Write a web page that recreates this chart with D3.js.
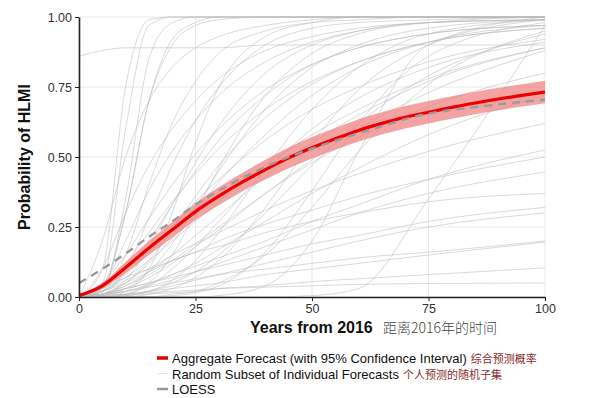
<!DOCTYPE html>
<html>
<head>
<meta charset="utf-8">
<script src="https://cdn.jsdelivr.net/npm/d3@7"></script>
<style>
  body { margin: 0; background: #fff; }
  svg { display: block; font-family: "Liberation Sans", Arial, sans-serif; }
  .grid line { stroke: #ebebeb; stroke-width: 1; }
  .axis path, .axis line { stroke: #222; }
  .axis text { fill: #333; font-size: 12.5px; font-family: "Liberation Sans", Arial, sans-serif; }
</style>
</head>
<body>
<div id="chart"></div>
<script>
// Forecast data

// years for the aggregate / LOESS / CI series
const years = [0, 5, 10, 15, 20, 25, 30, 35, 40, 45, 50, 55, 60, 65, 70, 75, 80, 85, 90, 95, 100];
const aggregate = [0.005, 0.04, 0.105, 0.175, 0.24, 0.305, 0.36, 0.41, 0.455, 0.497, 0.533, 0.565, 0.595, 0.62, 0.642, 0.66, 0.677, 0.693, 0.707, 0.72, 0.732];
const ciLower = [0.0, 0.03, 0.085, 0.15, 0.212, 0.275, 0.328, 0.377, 0.42, 0.46, 0.495, 0.526, 0.555, 0.58, 0.602, 0.62, 0.637, 0.653, 0.667, 0.68, 0.692];
const ciUpper = [0.01, 0.05, 0.125, 0.2, 0.268, 0.335, 0.392, 0.443, 0.49, 0.534, 0.571, 0.604, 0.635, 0.66, 0.682, 0.7, 0.717, 0.733, 0.747, 0.76, 0.772];
const loess = [0.05, 0.10, 0.155, 0.215, 0.27, 0.33, 0.38, 0.425, 0.465, 0.5, 0.53, 0.558, 0.585, 0.61, 0.635, 0.655, 0.668, 0.678, 0.688, 0.697, 0.705];

// years for the individual forecasts
const indivYears = [0, 5, 10, 15, 20, 25, 30, 40, 50, 60, 75, 100];
const individual = [
  [0, 0.05, 0.6, 0.97, 1, 1, 1, 1, 1, 1, 1, 1],
  [0, 0.1, 0.75, 0.99, 1, 1, 1, 1, 1, 1, 1, 1],
  [0, 0.02, 0.35, 0.85, 0.98, 1, 1, 1, 1, 1, 1, 1],
  [0, 0.03, 0.3, 0.7, 0.9, 0.97, 0.99, 1, 1, 1, 1, 1],
  [0.86, 0.88, 0.89, 0.89, 0.89, 0.89, 0.89, 0.9, 0.9, 0.9, 0.9, 0.9],
  [0, 0.02, 0.15, 0.4, 0.62, 0.77, 0.87, 0.95, 0.98, 0.99, 1, 1],
  [0, 0.01, 0.1, 0.28, 0.47, 0.63, 0.75, 0.9, 0.96, 0.98, 0.99, 1],
  [0, 0.01, 0.06, 0.18, 0.33, 0.48, 0.61, 0.8, 0.9, 0.95, 0.98, 0.99],
  [0, 0.04, 0.2, 0.38, 0.52, 0.63, 0.72, 0.84, 0.91, 0.95, 0.98, 0.99],
  [0, 0.05, 0.15, 0.28, 0.4, 0.51, 0.6, 0.74, 0.83, 0.89, 0.94, 0.97],
  [0, 0.03, 0.12, 0.23, 0.34, 0.44, 0.53, 0.67, 0.77, 0.84, 0.91, 0.96],
  [0, 0.01, 0.05, 0.12, 0.21, 0.31, 0.41, 0.58, 0.72, 0.82, 0.91, 0.97],
  [0, 0, 0.02, 0.1, 0.3, 0.55, 0.75, 0.93, 0.98, 1, 1, 1],
  [0, 0, 0.01, 0.05, 0.15, 0.3, 0.46, 0.72, 0.87, 0.94, 0.98, 1],
  [0, 0.02, 0.08, 0.16, 0.25, 0.34, 0.42, 0.56, 0.67, 0.75, 0.84, 0.92],
  [0, 0.01, 0.04, 0.09, 0.15, 0.22, 0.29, 0.43, 0.55, 0.65, 0.77, 0.89],
  [0, 0.02, 0.07, 0.13, 0.2, 0.27, 0.34, 0.47, 0.58, 0.67, 0.78, 0.89],
  [0, 0.01, 0.03, 0.07, 0.12, 0.18, 0.24, 0.37, 0.49, 0.6, 0.73, 0.88],
  [0, 0, 0, 0.01, 0.03, 0.07, 0.13, 0.32, 0.55, 0.74, 0.9, 0.99],
  [0, 0, 0, 0, 0.01, 0.02, 0.05, 0.15, 0.32, 0.52, 0.76, 0.95],
  [0, 0, 0, 0, 0, 0, 0, 0, 0.005, 0.03, 0.35, 0.97],
  [0, 0.01, 0.03, 0.05, 0.08, 0.11, 0.14, 0.2, 0.27, 0.33, 0.42, 0.525],
  [0, 0.02, 0.05, 0.09, 0.13, 0.16, 0.2, 0.26, 0.31, 0.36, 0.42, 0.5],
  [0, 0.01, 0.02, 0.04, 0.06, 0.09, 0.12, 0.18, 0.24, 0.3, 0.37, 0.446],
  [0, 0.03, 0.07, 0.1, 0.13, 0.16, 0.18, 0.23, 0.27, 0.3, 0.34, 0.37],
  [0, 0.01, 0.03, 0.05, 0.07, 0.09, 0.11, 0.15, 0.19, 0.22, 0.27, 0.32],
  [0, 0.005, 0.01, 0.02, 0.04, 0.06, 0.08, 0.12, 0.16, 0.2, 0.25, 0.3],
  [0, 0.005, 0.01, 0.02, 0.03, 0.04, 0.05, 0.08, 0.1, 0.12, 0.15, 0.196],
  [0, 0, 0.005, 0.01, 0.015, 0.02, 0.03, 0.04, 0.055, 0.065, 0.08, 0.104],
  [0, 0.005, 0.01, 0.015, 0.02, 0.025, 0.03, 0.035, 0.04, 0.045, 0.048, 0.05],
  [0, 0.01, 0.02, 0.035, 0.05, 0.065, 0.08, 0.1, 0.12, 0.14, 0.16, 0.2],
  [0, 0.005, 0.03, 0.09, 0.19, 0.32, 0.45, 0.67, 0.82, 0.9, 0.96, 0.99],
  [0, 0.02, 0.09, 0.2, 0.33, 0.45, 0.56, 0.72, 0.83, 0.89, 0.94, 0.97],
  [0, 0.01, 0.05, 0.13, 0.24, 0.36, 0.47, 0.64, 0.76, 0.84, 0.91, 0.96],
  [0, 0, 0.005, 0.02, 0.06, 0.13, 0.23, 0.46, 0.67, 0.82, 0.94, 0.99],
  [0, 0.1, 0.3, 0.47, 0.6, 0.7, 0.78, 0.88, 0.93, 0.96, 0.98, 0.99],
  [0, 0.2, 0.5, 0.7, 0.82, 0.89, 0.93, 0.97, 0.99, 1, 1, 1],
  [0, 0.01, 0.04, 0.08, 0.13, 0.19, 0.25, 0.37, 0.48, 0.57, 0.68, 0.8],
  [0, 0.005, 0.02, 0.045, 0.08, 0.12, 0.17, 0.27, 0.37, 0.46, 0.58, 0.72],
  [0, 0.02, 0.06, 0.1, 0.15, 0.19, 0.23, 0.31, 0.38, 0.44, 0.52, 0.62],
  [0, 0, 0.01, 0.04, 0.1, 0.18, 0.27, 0.45, 0.6, 0.71, 0.82, 0.91],
  [0, 0.04, 0.3, 0.7, 0.92, 0.98, 1, 1, 1, 1, 1, 1],
  [0, 0, 0.005, 0.02, 0.05, 0.09, 0.15, 0.3, 0.47, 0.62, 0.79, 0.94],
  [0, 0, 0, 0, 0, 0, 0.005, 0.04, 0.2, 0.52, 0.9, 1],
  [0, 0, 0, 0, 0.005, 0.015, 0.04, 0.16, 0.38, 0.62, 0.86, 0.98]
];

const xTicks = [0, 25, 50, 75, 100];
const yTicks = [0, 0.25, 0.5, 0.75, 1];

const legendItems = [
  { label: "Aggregate Forecast (with 95% Confidence Interval)", note: "综合预测概率", kind: "agg" },
  { label: "Random Subset of Individual Forecasts", note: "个人预测的随机子集", kind: "indiv" },
  { label: "LOESS", note: "", kind: "loess" }
];

const W = 600, H = 398;
const margin = { top: 17, right: 55, bottom: 101, left: 79 };
const width = W - margin.left - margin.right;
const height = H - margin.top - margin.bottom;

const svg = d3.select("#chart").append("svg")
    .attr("width", W)
    .attr("height", H);

const g = svg.append("g")
    .attr("transform", `translate(${margin.left},${margin.top})`);

const x = d3.scaleLinear().domain([0, 100]).range([0, width]);
const y = d3.scaleLinear().domain([0, 1]).range([height, 0]);

// grid
g.append("g").attr("class", "grid")
    .selectAll("line.v").data(xTicks).join("line")
    .attr("x1", d => x(d)).attr("x2", d => x(d))
    .attr("y1", 0).attr("y2", height);
g.append("g").attr("class", "grid")
    .selectAll("line.h").data(yTicks).join("line")
    .attr("x1", 0).attr("x2", width)
    .attr("y1", d => y(d)).attr("y2", d => y(d));

// individual forecasts
const indivLine = d3.line()
    .x((d, i) => x(indivYears[i]))
    .y(d => y(d))
    .curve(d3.curveMonotoneX);

g.append("g")
    .selectAll("path").data(individual).join("path")
    .attr("d", indivLine)
    .attr("fill", "none")
    .attr("stroke", "#bdbdbd")
    .attr("stroke-opacity", 0.7)
    .attr("stroke-width", 0.8);

// confidence band
const band = d3.area()
    .x((d, i) => x(years[i]))
    .y0((d, i) => y(ciLower[i]))
    .y1((d, i) => y(ciUpper[i]))
    .curve(d3.curveMonotoneX);

g.append("path")
    .datum(years)
    .attr("d", band)
    .attr("fill", "#f07c7c")
    .attr("fill-opacity", 0.7);

const seriesLine = d3.line()
    .x((d, i) => x(years[i]))
    .y(d => y(d))
    .curve(d3.curveMonotoneX);

g.append("path")
    .datum(aggregate)
    .attr("d", seriesLine)
    .attr("fill", "none")
    .attr("stroke", "#ee0000")
    .attr("stroke-width", 3.2);

g.append("path")
    .datum(loess)
    .attr("d", seriesLine)
    .attr("fill", "none")
    .attr("stroke", "#9a9a9a")
    .attr("stroke-width", 2.4)
    .attr("stroke-dasharray", "8,6");

// axes
g.append("g")
    .attr("class", "axis")
    .attr("transform", `translate(0,${height})`)
    .call(d3.axisBottom(x).tickValues(xTicks).tickSize(4).tickPadding(3).tickSizeOuter(0))
    .call(a => a.select(".domain").attr("stroke-width", 1.6));

g.append("g")
    .attr("class", "axis")
    .call(d3.axisLeft(y).tickValues(yTicks).tickFormat(d3.format(".2f")).tickSize(4).tickPadding(3).tickSizeOuter(0))
    .call(a => a.select(".domain").attr("stroke-width", 1.6));

// axis titles
svg.append("text")
    .attr("transform", `translate(30,${margin.top + height / 2}) rotate(-90)`)
    .attr("text-anchor", "middle")
    .attr("font-weight", "bold")
    .attr("font-size", 16)
    .attr("fill", "#111")
    .text("Probability of HLMI");

svg.append("text")
    .attr("x", 250)
    .attr("y", 333)
    .attr("font-weight", "bold")
    .attr("font-size", 16)
    .attr("fill", "#111")
    .text("Years from 2016");

svg.append("text")
    .attr("x", 383)
    .attr("y", 333)
    .attr("font-size", 14)
    .attr("fill", "#444")
    .attr("font-family", "'Noto Sans CJK SC', sans-serif")
    .attr("font-weight", 300)
    .text("距离2016年的时间");

// legend
const legend = svg.append("g").attr("transform", "translate(157,358)");
const rowH = 15.5;
legendItems.forEach((item, i) => {
    const row = legend.append("g").attr("transform", `translate(0,${i * rowH})`);
    if (item.kind === "agg") {
        row.append("line").attr("x1", 0).attr("x2", 11).attr("y1", 0).attr("y2", 0)
            .attr("stroke", "#e00000").attr("stroke-width", 3.5);
    } else if (item.kind === "indiv") {
        row.append("line").attr("x1", 0).attr("x2", 11).attr("y1", 0).attr("y2", 0)
            .attr("stroke", "#e4e4e4").attr("stroke-width", 1);
    } else {
        row.append("line").attr("x1", 0).attr("x2", 11).attr("y1", 0).attr("y2", 0)
            .attr("stroke", "#999").attr("stroke-width", 2.5);
    }
    const t = row.append("text")
        .attr("x", 15)
        .attr("y", 5)
        .attr("font-size", 13)
        .attr("fill", "#111")
        .text(item.label);
    if (item.note) {
        const len = t.node().getComputedTextLength();
        row.append("text")
            .attr("x", 15 + len + 4)
            .attr("y", 5)
            .attr("font-size", 11)
            .attr("fill", "#8a2b2b")
            .attr("font-family", "'Noto Sans CJK SC', sans-serif")
            .text(item.note);
    }
});
</script>
</body>
</html>
